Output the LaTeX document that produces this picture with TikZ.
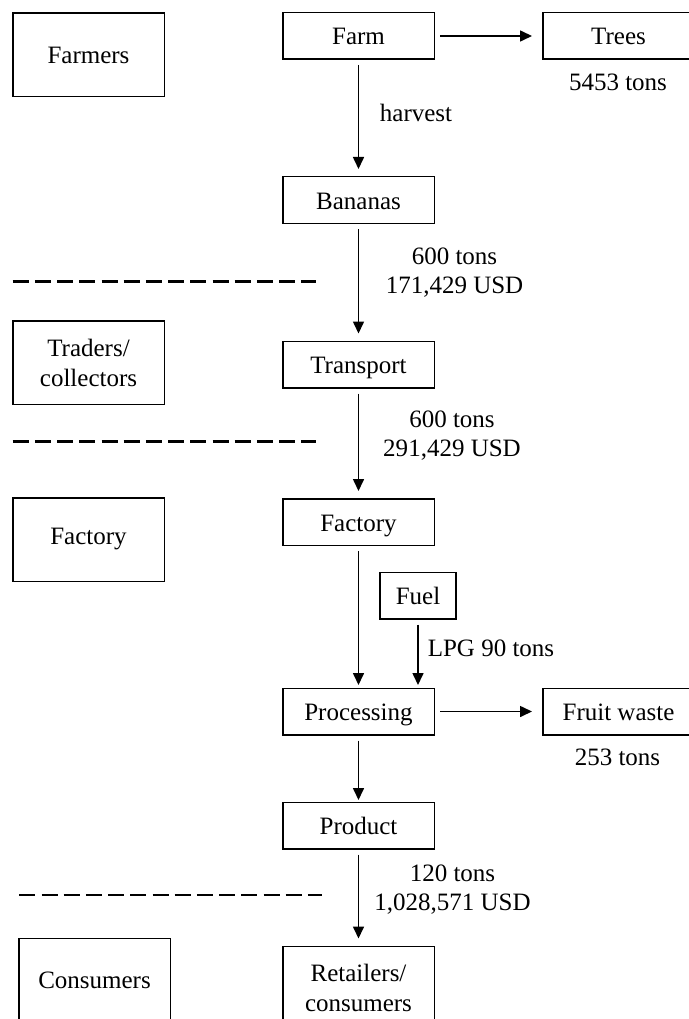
\documentclass[tikz,border=0pt]{standalone}
\usepackage{fontspec}
\setmainfont{Liberation Serif}
\usetikzlibrary{
	arrows.meta,
	positioning
}

\begin{document}
\begin{tikzpicture}[
				x=1pt, y=1pt,
				stage/.style={
					rectangle, draw, line width=1.5pt,
					minimum width=151.5pt, minimum height=46.5pt,
					align=center, inner sep=2pt,
					text height=20pt, text depth=2pt,
					font=\fontsize{25}{30}\selectfont
				},
				actorbox/.style={
					stage, minimum height=83.5pt, text height=, text depth=
				},
				fuelbox/.style={
					stage, minimum width=76pt
				},
				flowlabel/.style={
					align=center, inner sep=0pt,
					font=\fontsize{25}{29}\selectfont
				},
				arrow/.style={-{Triangle[length=12pt,width=11pt]}, line width=1.6pt, black,
					shorten <=5pt, shorten >=7pt},
				levelline/.style={line width=2.6pt, dash pattern=on 16pt off 6.2pt}
				]
				
				\useasboundingbox (0,0) rectangle (688,-1019);
				
				% Farm
				\node[stage] (farm) at (358.5,-36) {Farm};
				
				% Bananas
				\node[stage, below=116pt of farm] (bananas) {Bananas};
				
				% Transport
				\node[stage, below=116.5pt of bananas] (transport) {Transport};
				
				% Factory
				\node[stage, below=109.5pt of transport] (factory) {Factory};
				
				% Processing
				\node[stage, below=141.5pt of factory] (processing) {Processing};
				
				% Product
				\node[stage, below=66pt of processing] (product) {Product};
				
				% Retailers
				\node[actorbox, below=96pt of product] (retailers) {Retailers/\\consumers};
				
				% side outputs
				\node[stage, right=107pt of farm] (trees) {Trees};
				\node[stage, right=107pt of processing] (waste) {Fruit waste};
				\node[fuelbox] (fuel) at (418,-595.5) {Fuel};
				
				% actors
				\node[actorbox] (farmers) at (88.5,-55) {Farmers};
				\node[actorbox] (traders) at (88.5,-362.5) {Traders/\\collectors};
				\node[actorbox] (factoryActor) at (88.5,-539.5) {Factory};
				\node[actorbox] (consumers) at (94.5,-980) {Consumers};
				
				% flow labels
				\node[flowlabel] (treesTons) at (618,-82) {5453 tons};
				\node[flowlabel] (harvestLabel) at (416,-113) {harvest};
				\node[flowlabel] (bananaFlow) at (454.5,-272.5) {600 tons\\171,429 USD};
				\node[flowlabel] (transportFlow) at (452,-436) {600 tons\\291,429 USD};
				\node[flowlabel] (lpgLabel) at (491,-648) {LPG 90 tons};
				\node[flowlabel] (wasteTons) at (617.5,-757.5) {253 tons};
				\node[flowlabel] (productFlow) at (452.5,-889.5) {120 tons\\1,028,571 USD};
				
				% level separators
				\draw[levelline] (12.7,-281.5) -- (316,-281.5);
				\draw[levelline] (12.7,-441.5) -- (316,-441.5);
				\draw[levelline] (19.3,-895) -- (322,-895);
				
				% arrows between nodes
				\draw[arrow] (farm)       -- (bananas);
				\draw[arrow, shorten >=10pt] (farm) -- (trees);
				\draw[arrow] (bananas)    -- (transport);
				\draw[arrow] (transport)  -- (factory);
				\draw[arrow, shorten >=2.5pt] (factory) -- (processing);
				\draw[arrow, shorten >=2.5pt] (fuel) -- (fuel |- processing.north);
				\draw[arrow, shorten >=10pt] (processing) -- (waste);
				\draw[arrow, shorten >=1.5pt] (processing) -- (product);
				\draw[arrow] (product)    -- (retailers);
			\end{tikzpicture}
\end{document}
